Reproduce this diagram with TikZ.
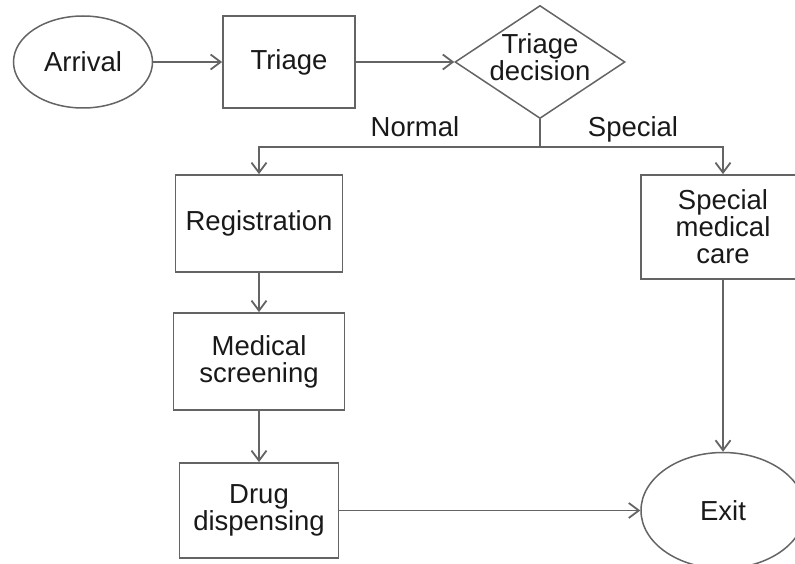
\documentclass[tikz,border=0pt]{standalone}
\usepackage{fontspec}
\setmainfont{Liberation Sans}
\usetikzlibrary{shapes.geometric,arrows.meta}
\definecolor{lc}{RGB}{100,100,100}
\definecolor{tc}{RGB}{25,25,25}
\begin{document}
\begin{tikzpicture}[x=1pt,y=-1pt,
  every node/.style={font=\fontsize{27.5}{27}\selectfont, text=tc},
  box/.style={draw=lc, line width=1.8pt, rectangle, inner sep=0pt, align=center},
  oval/.style={draw=lc, line width=1.5pt, ellipse, inner sep=0pt, align=center},
  decision/.style={draw=lc, line width=1.5pt, diamond, inner sep=0pt},
  arr/.style={draw=lc, line width=1.8pt, -{Straight Barb[length=10pt,width=15pt,line width=1.8pt]}},
  ln/.style={draw=lc, line width=1.8pt},
  lab/.style={anchor=base}]
\useasboundingbox (0,0) rectangle (795,564);
\clip (0,0) rectangle (795,564);
% nodes
\node[oval, minimum width=139pt, minimum height=92pt] (arrival) at (83,62) {Arrival};
\node[box, minimum width=132pt, minimum height=92pt] (triage) at (289,62) {Triage};
\node[decision, minimum width=170pt, minimum height=113pt] (dec) at (540,62) {};
\node[align=center] (dectext) at (540,57) {Triage\\decision};
\node[box, minimum width=167pt, minimum height=97pt] (reg) at (259,223.5) {Registration};
\node[box, minimum width=171pt, minimum height=97pt] (med) at (259,361.5) {Medical\\screening};
\node[box, minimum width=159pt, minimum height=95pt] (drug) at (259,510.5) {Drug\\dispensing};
\node[box, minimum width=164pt, minimum height=104pt] (spec) at (723,227) {Special\\medical\\care};
\node[oval, minimum width=164pt, minimum height=116pt] (exit) at (723,510.5) {Exit};
\node[lab] (normal) at (415,137) {Normal};
\node[lab] (special) at (633,137) {Special};
\coordinate (fork) at (540,147);
% connectors
\draw[arr] (arrival) -- (triage);
\draw[arr] (triage) -- (dec);
\draw[ln] (dec.south) -- (fork);
\draw[arr] (fork) -| (reg.north);
\draw[arr] (fork) -| (spec.north);
\draw[arr] (reg) -- (med);
\draw[arr] (med) -- (drug);
\draw[arr] (drug) -- (exit);
\draw[arr] (spec) -- (exit);
\end{tikzpicture}
\end{document}
